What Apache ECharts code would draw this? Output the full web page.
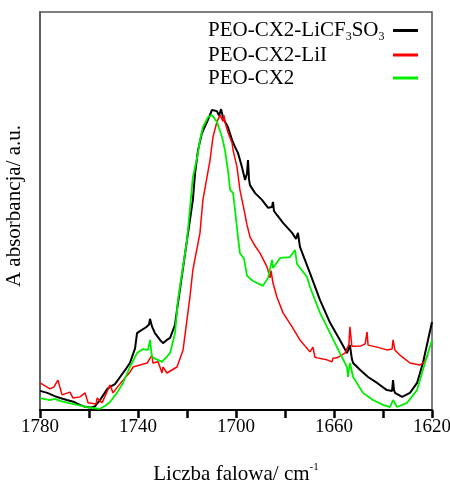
<!DOCTYPE html>
<html><head><meta charset="utf-8">
<script src="https://cdn.jsdelivr.net/npm/echarts@6/dist/echarts.min.js"></script>
<style>html,body{margin:0;padding:0;background:#fff}#c{width:450px;height:481px}</style>
</head><body><div id="c"></div>
<script>
// Wavenumber (cm-1) and absorbance (a.u.)
const licfWn = [1780,1777,1774,1771.8,1769,1766,1763.7,1761.6,1759.6,1757.6,1755.5,1752.5,1751.4,1749.4,1747.3,1745.3,1743.3,1741.2,1740.4,1739.2,1738.4,1736.7,1735.5,1735.1,1734.3,1733.1,1731,1729.8,1728.2,1726.9,1724.9,1724.1,1722.9,1720,1717.6,1716.7,1715.5,1713.9,1711.8,1709.8,1709.4,1707.8,1706.9,1706.1,1705.7,1705.3,1704.5,1703.3,1701.6,1700.4,1699.2,1697.6,1696.3,1695.5,1695.1,1694.7,1694.3,1692.2,1689.4,1686.9,1685.3,1684.9,1684.5,1683.3,1680.8,1677.1,1675.5,1674.7,1673.9,1669.8,1665.7,1661.6,1657.6,1654.7,1653.9,1653.5,1652.7,1652.2,1649.4,1646.1,1642.4,1638.4,1636.3,1635.9,1635.5,1635.1,1632.2,1629,1626.1,1623.7,1620];
const licfAbs = [4.8,4.3,3.5,3.0,2.5,2.0,1.3,0.8,0.6,0.9,2.5,5.3,5.8,6.5,8.3,10.0,11.8,15.5,19.3,19.8,20.1,20.8,21.5,22.9,21.0,19.3,17.6,16.8,17.6,18.1,21.4,25.1,30.2,42.7,52.8,59.5,65.3,69.6,72.4,75.4,75.6,75.1,74.0,75.6,76.1,73.5,72.4,71.1,67.8,66.1,64.6,61.1,57.8,59.5,62.8,58.0,56.5,54.5,52.8,50.8,51.0,52.3,50.0,49.0,47.0,44.5,43.0,44.5,41.0,34.4,27.6,21.9,17.6,14.3,13.8,16.3,12.8,11.8,10.1,8.3,6.8,5.0,4.8,7.5,5.0,4.3,3.3,4.3,6.8,11.8,22.1];

const liiWn = [1780,1775.9,1774.3,1772.7,1771,1767.8,1766.5,1763.7,1761.6,1760.4,1757.1,1756.7,1754.7,1751.4,1750.2,1748.1,1746.1,1743.3,1742,1739.2,1736.3,1734.3,1733.9,1731.8,1730.2,1729.8,1728.2,1724.1,1721.6,1718.8,1717.6,1714.7,1713.5,1710.6,1709.4,1707.8,1706.5,1705.7,1705.3,1704.9,1704.5,1703.3,1701.6,1701.2,1699.6,1698.4,1697.1,1695.5,1694.3,1692.2,1690.2,1687.3,1686.1,1685.7,1684.9,1683.3,1680.8,1677.1,1673.9,1669.8,1668.6,1667.8,1666.9,1662.9,1660.8,1660.4,1658.8,1655.5,1653.9,1653.5,1652.7,1652.2,1649,1647.3,1646.5,1646.1,1642.4,1638.4,1636.3,1635.9,1635.1,1633.1,1629,1624.9,1623.3,1621.6];
const liiAbs = [6.8,5.3,5.8,7.5,3.8,4.5,3.0,3.3,4.3,1.8,1.5,3.0,1.8,6.3,4.3,6.0,7.5,9.5,10.8,11.3,11.8,13.8,11.8,12.1,9.3,10.8,9.3,10.8,15.1,28.4,35.2,44.5,52.8,62.8,68.6,72.4,74.1,74.6,72.5,74.0,72.4,69.8,67.1,65.3,61.1,55.3,51.5,46.5,43.5,41.2,39.4,35.9,33.2,35.0,31.9,28.4,24.4,20.9,17.6,14.6,15.8,13.3,13.1,12.6,12.1,13.0,13.1,14.3,16.5,20.9,16.0,15.8,16.1,16.6,19.6,16.3,15.8,15.1,15.3,17.6,15.0,13.8,11.8,11.3,12.0,13.8];

const peoWn = [1780,1775.9,1773.9,1771.8,1768.6,1764.9,1760.8,1758.4,1755.5,1753.5,1751.4,1748.6,1746.1,1743.3,1740.4,1738,1735.9,1735.1,1734.3,1730.2,1726.9,1724.9,1723.7,1720,1717.6,1715.9,1714.7,1713.5,1711.4,1709.8,1707.8,1705.7,1704.5,1703.3,1702.4,1701.6,1701.2,1700.4,1699.2,1698.4,1696.7,1696.3,1695.5,1693.1,1689,1686.9,1685.3,1684.9,1682,1678,1675.9,1675.1,1671,1669.8,1665.7,1661.6,1657.6,1654.7,1654.3,1653.5,1652.2,1648.2,1644.1,1640,1637.1,1635.9,1634.3,1630.2,1626.1,1623.7,1620];
const peoAbs = [3.0,2.5,2.8,2.3,1.8,1.3,0.75,0.5,0.3,1.0,2.0,4.3,6.8,10.8,14.3,15.3,15.1,17.6,13.3,12.1,14.3,19.3,27.6,42.7,58.5,63.3,67.8,71.1,73.6,74.1,72.4,68.6,65.3,60.3,55.3,55.0,54.5,50.3,43.5,39.4,38.0,38.4,33.7,32.4,31.2,33.2,37.7,35.7,38.2,38.4,40.2,36.7,33.4,30.9,24.4,19.3,14.3,10.8,8.3,11.8,8.3,4.3,2.5,1.3,0.75,2.5,0.75,1.8,5.0,10.1,17.6];

const seriesNames = ['PEO-CX2-LiCF3SO3','PEO-CX2-LiI','PEO-CX2'];
const legendLabels = ['{a|PEO-CX2-LiCF}{sub|3}{a|SO}{sub|3}','{a|PEO-CX2-LiI}','{a|PEO-CX2}'];
const xTicks = [1620,1660,1700,1740,1780];

const zip = (a,b) => a.map((v,i)=>[v,b[i]]);
const FONT = "'Liberation Serif','Times New Roman',serif";
const chart = echarts.init(document.getElementById('c'), null, {renderer:'canvas'});
chart.setOption({
  animation:false,
  backgroundColor:'#fff',
  grid:{left:40,right:18,top:12,bottom:71,containLabel:false,outerBoundsMode:'none',
        show:true,borderColor:'#555',borderWidth:1.5,backgroundColor:'transparent'},
  legend:{
    orient:'vertical', left:203, top:13, itemGap:1, align:'right',
    itemWidth:25, itemHeight:3, icon:'rect',
    data:seriesNames,
    formatter:function(n){return legendLabels[seriesNames.indexOf(n)];},
    textStyle:{fontFamily:FONT,fontSize:21,color:'#000',width:180,lineHeight:22,
      rich:{
        a:{fontFamily:FONT,fontSize:21,lineHeight:22,color:'#000',align:'left'},
        sub:{fontFamily:FONT,fontSize:12,lineHeight:12,padding:[13,0,0,0],color:'#000',align:'left'}}}
  },
  xAxis:{
    type:'value',min:1620,max:1780,interval:20,inverse:true,
    name:'Liczba falowa/ cm{sup|-1}',nameLocation:'middle',nameGap:52,
    nameTextStyle:{fontFamily:FONT,fontSize:21,color:'#000',
      rich:{sup:{fontFamily:FONT,fontSize:11,color:'#000',padding:[0,0,13,0]}}},
    axisLine:{show:true,lineStyle:{color:'#000',width:2}},
    axisTick:{show:true,inside:false,length:8,lineStyle:{color:'#000',width:2.5}},
    axisLabel:{fontFamily:FONT,fontSize:19,color:'#000',margin:8,
      formatter:function(v){return xTicks.indexOf(v)>=0?String(v):'';}},
    splitLine:{show:false}
  },
  yAxis:{
    type:'value',min:0,max:100,
    name:'A absorbancja/ a.u.',nameLocation:'middle',nameGap:15,
    nameTextStyle:{fontFamily:FONT,fontSize:21,color:'#000',padding:[0,0,0,10]},
    axisLine:{show:true,lineStyle:{color:'#555',width:1.5}},
    axisTick:{show:false},axisLabel:{show:false},splitLine:{show:false}
  },
  series:[
    {name:seriesNames[0],type:'line',data:zip(licfWn,licfAbs),showSymbol:false,symbol:'none',color:'#000',lineStyle:{color:'#000',width:2}},
    {name:seriesNames[1],type:'line',data:zip(liiWn,liiAbs),showSymbol:false,symbol:'none',color:'#ff0000',lineStyle:{color:'#ff0000',width:1.5}},
    {name:seriesNames[2],type:'line',data:zip(peoWn,peoAbs),showSymbol:false,symbol:'none',color:'#00ee00',lineStyle:{color:'#00ee00',width:1.8}}
  ]
});
</script></body></html>
